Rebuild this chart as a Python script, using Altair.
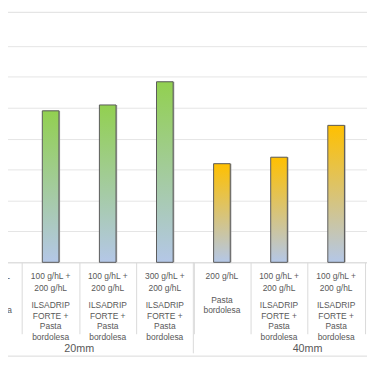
import altair as alt
import pandas as pd

# ---- data ----
groups = ["20mm", "20mm", "20mm", "20mm", "40mm", "40mm", "40mm", "40mm"]
dose_lines = [
    ["200 g/hL"],
    ["100 g/hL +", "200 g/hL"],
    ["100 g/hL +", "200 g/hL"],
    ["300 g/hL +", "200 g/hL"],
    ["200 g/hL"],
    ["100 g/hL +", "200 g/hL"],
    ["100 g/hL +", "200 g/hL"],
    [],  # last 40mm category lies outside the visible crop
]
product_lines = [
    ["Pasta", "bordolesa"],
    ["ILSADRIP", "FORTE +", "Pasta", "bordolesa"],
    ["ILSADRIP", "FORTE +", "Pasta", "bordolesa"],
    ["ILSADRIP", "FORTE +", "Pasta", "bordolesa"],
    ["Pasta", "bordolesa"],
    ["ILSADRIP", "FORTE +", "Pasta", "bordolesa"],
    ["ILSADRIP", "FORTE +", "Pasta", "bordolesa"],
    [],
]
values = [38.7, 49.0, 50.9, 58.4, 31.9, 34.0, 44.3, None]
grid_values = [0, 10, 20, 30, 40, 50, 60, 70]

ids = [f"{g}-{i}" for i, g in enumerate(groups)]
doses = ["\n".join(d) for d in dose_lines]
products = ["\n".join(p) for p in product_lines]
kinds = ["combo" if len(p) > 2 else "single" for p in product_lines]

df = pd.DataFrame({"id": ids, "group": groups, "value": values,
                   "dose": doses, "product": products, "kind": kinds})

group_names = ["20mm", "40mm"]
group_first = [ids[groups.index(g)] for g in group_names]
group_mid = [ids[groups.index(g) + groups.count(g) // 2] for g in group_names]
gdf = pd.DataFrame({"group": group_names, "first": group_first, "mid": group_mid})

W, H = 367, 256
FONT = "Liberation Sans"
TXT = "#595959"
LINE = "#d9d9d9"

xscale = alt.Scale(domain=ids, range=[-44, 423], paddingInner=0, paddingOuter=0)
yscale = alt.Scale(domain=[0, 81], nice=False)
xaxis = alt.Axis(title=None, labels=False, ticks=True, tickBand="extent",
                 tickSize=73, tickColor=LINE, domainColor=LINE, grid=False)
yaxis = alt.Axis(title=None, labels=False, ticks=False, domain=False,
                 grid=True, gridColor="#e4e4e4", values=grid_values)

def grad(top):
    return alt.Gradient(
        gradient="linear",
        stops=[alt.GradientStop(color=top, offset=0),
               alt.GradientStop(color="#B4C7E7", offset=1)],
        x1=0, x2=0, y1=0, y2=1,
    )

base = alt.Chart(df)

shadow = base.mark_bar(size=17, color="#a8a8a8", xOffset=1.2).encode(
    x=alt.X("id:N", scale=xscale, axis=xaxis),
    y=alt.Y("value:Q", scale=yscale, axis=yaxis),
)

def bars(group, top):
    return base.transform_filter(alt.datum.group == group).mark_bar(
        size=17, color=grad(top), stroke="#595959", strokeWidth=1
    ).encode(
        x=alt.X("id:N", scale=xscale, axis=xaxis),
        y=alt.Y("value:Q", scale=yscale, axis=yaxis),
    )

def text_block(field, top, lh, kind=None):
    c = base
    if kind is not None:
        c = c.transform_filter(alt.datum.kind == kind)
    return c.mark_text(
        font=FONT, fontSize=8.6, color=TXT, baseline="top", lineBreak="\n", lineHeight=lh
    ).encode(
        x=alt.X("id:N", scale=xscale, axis=xaxis),
        y=alt.value(top),
        text=f"{field}:N",
    )

dose_text = text_block("dose", H + 10, 12.8)
prod_combo = text_block("product", H + 40, 10.7, "combo")
prod_single = text_block("product", H + 35, 10.3, "single")

gchart = alt.Chart(gdf)
group_sep = gchart.mark_rule(color=LINE, strokeWidth=1).encode(
    x=alt.X("first:N", scale=xscale, axis=xaxis, bandPosition=0),
    y=alt.value(H),
    y2=alt.value(H + 93),
)
group_lab = gchart.mark_text(font=FONT, fontSize=11, color=TXT, baseline="middle").encode(
    x=alt.X("mid:N", scale=xscale, axis=xaxis, bandPosition=0),
    y=alt.value(H + 89),
    text="group:N",
)

top_line = gchart.mark_rule(color="#e4e4e4", strokeWidth=1).encode(
    x=alt.value(0), x2=alt.value(W), y=alt.value(0.5)
)
bottom_line = gchart.mark_rule(color="#e4e4e4", strokeWidth=1).encode(
    x=alt.value(0), x2=alt.value(W), y=alt.value(H + 96)
)

chart = alt.layer(
    shadow, bars("20mm", "#92D050"), bars("40mm", "#FFC000"),
    dose_text, prod_combo, prod_single,
    group_sep, group_lab, top_line, bottom_line
).properties(
    width=W, height=H,
    padding={"left": 0, "top": 0, "right": 0, "bottom": 102},
    autosize=alt.AutoSizeParams(type="none"),
).configure_view(stroke=None)

chart.save("out.html", embed_options={"renderer": "svg", "actions": False})
